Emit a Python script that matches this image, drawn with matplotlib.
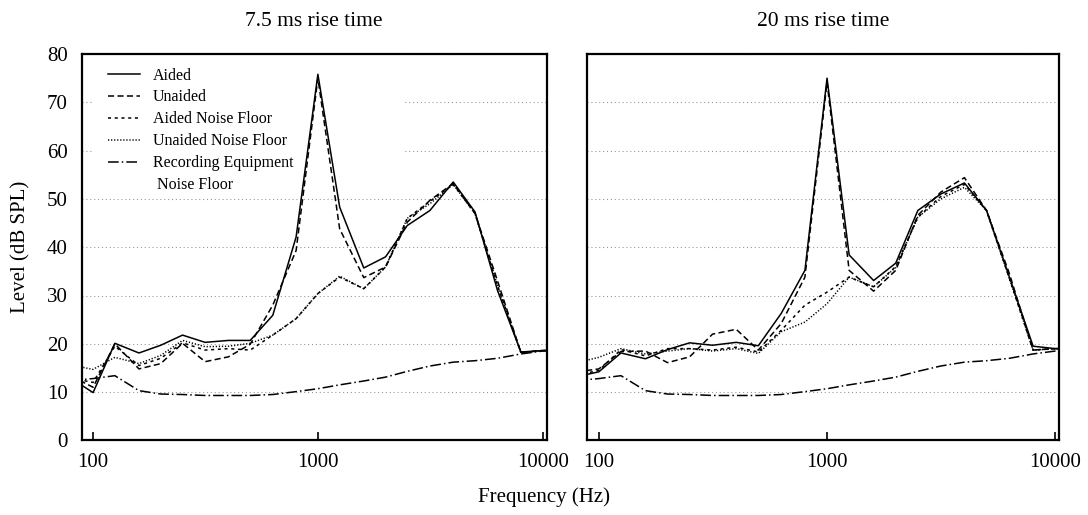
import matplotlib
matplotlib.use('Agg')
import matplotlib.pyplot as plt
from matplotlib.lines import Line2D
from matplotlib.patches import Rectangle

# third-octave band centres (Hz)
freqs = [80, 100, 125, 160, 200, 250, 315, 400, 500, 630, 800, 1000,
         1250, 1600, 2000, 2500, 3150, 4000, 5000, 6300, 8000, 10000, 12500]

# 7.5 ms rise time
aided_75 = [12.8, 9.9, 20.1, 18.1, 19.7, 21.8, 20.3, 20.7, 20.7, 25.9, 42.1, 75.8,
            48.3, 35.7, 38.0, 44.5, 47.6, 53.5, 47.3, 31.0, 18.3, 18.6, 18.7]
unaided_75 = [13.3, 11.0, 20.0, 14.8, 15.9, 20.1, 16.3, 17.3, 19.9, 28.0, 39.3, 75.0,
              43.8, 33.7, 35.9, 45.2, 49.7, 53.2, 47.0, 33.0, 18.2, 18.6, 18.7]
aided_nf_75 = [12.9, 12.0, 19.5, 15.5, 17.0, 20.2, 18.7, 19.0, 18.7, 21.8, 25.2, 30.4,
               33.8, 31.4, 35.9, 46.0, 49.5, 53.0, 47.0, 32.0, 18.2, 18.6, 18.7]
unaided_nf_75 = [15.6, 14.7, 17.2, 15.9, 17.6, 20.7, 19.4, 19.5, 20.1, 21.8, 25.2, 30.4,
                 34.0, 31.4, 35.9, 46.0, 49.0, 53.0, 47.0, 32.0, 18.2, 18.6, 18.7]

# 20 ms rise time
aided_20 = [13.2, 14.2, 18.1, 16.9, 18.8, 20.2, 19.7, 20.3, 19.6, 26.3, 35.2, 75.0,
            38.4, 33.1, 36.7, 47.6, 51.0, 53.3, 47.6, 33.8, 19.5, 19.0, 19.0]
unaided_20 = [14.2, 14.8, 18.4, 18.5, 16.1, 17.3, 22.0, 23.0, 18.7, 24.2, 33.8, 74.2,
              35.2, 30.9, 35.2, 46.6, 51.4, 54.4, 47.6, 34.5, 18.7, 19.0, 19.0]
aided_nf_20 = [13.5, 14.5, 18.8, 17.5, 19.0, 19.0, 18.7, 19.3, 18.3, 22.8, 28.0, 30.7,
               33.8, 31.8, 36.0, 46.2, 50.5, 53.0, 47.6, 33.5, 18.7, 19.0, 19.0]
unaided_nf_20 = [16.1, 17.2, 19.0, 17.9, 18.5, 19.0, 18.5, 19.0, 18.0, 22.5, 24.5, 28.3,
                 33.8, 31.8, 35.8, 46.2, 50.0, 52.4, 47.6, 33.5, 18.7, 19.0, 19.0]

# recording equipment noise floor (same for both)
rec_nf = [12.4, 12.8, 13.4, 10.3, 9.6, 9.5, 9.3, 9.3, 9.3, 9.5, 10.1, 10.7,
          11.5, 12.3, 13.1, 14.3, 15.4, 16.2, 16.5, 17.0, 17.9, 18.5, 18.7]

titles = ['7.5 ms rise time', '20 ms rise time']
labels = ['Aided', 'Unaided', 'Aided Noise Floor', 'Unaided Noise Floor',
          'Recording Equipment']

styles = [
    dict(linestyle='-'),
    dict(linestyle=(0, (4.0, 2.2))),
    dict(linestyle=(0, (2.0, 2.4))),
    dict(linestyle=(0, (0.8, 1.2))),
    dict(linestyle=(0, (7.0, 2.0, 1.0, 2.0))),
]

plt.rcParams['font.family'] = ['Liberation Serif', 'DejaVu Serif']
plt.rcParams['font.size'] = 15

W, H = 1088, 515
fig = plt.figure(figsize=(W / 100, H / 100), dpi=100)

y_bot = 1 - 440.4 / H
y_h = (440.4 - 54) / H
ax1 = fig.add_axes([81.7 / W, y_bot, 465 / W, y_h])
ax2 = fig.add_axes([587.3 / W, y_bot, 472 / W, y_h])

panels = [
    (ax1, [aided_75, unaided_75, aided_nf_75, unaided_nf_75, rec_nf]),
    (ax2, [aided_20, unaided_20, aided_nf_20, unaided_nf_20, rec_nf]),
]

for i, (ax, series) in enumerate(panels):
    for vals, lab, st in zip(series, labels, styles):
        ax.plot(freqs, vals, color='black', linewidth=1.1, label=lab, **st)
    ax.set_xscale('log')
    ax.set_xlim(89, 10420)
    ax.set_ylim(0, 80)
    ax.set_xticks([100, 1000, 10000])
    ax.set_xticklabels(['100', '1000', '10000'])
    ax.minorticks_off()
    ax.set_yticks(range(0, 81, 10))
    ax.set_axisbelow(True)
    ax.yaxis.grid(True, color='#999999', linestyle=(0, (1, 2.5)), linewidth=0.8)
    for sp in ax.spines.values():
        sp.set_linewidth(1.6)
    ax.tick_params(axis='x', direction='in', length=6, width=1.2, pad=9, labelsize=15)
    ax.tick_params(axis='y', length=0, pad=10, labelsize=15)
    ax.set_title(titles[i], fontsize=15.5, pad=20)
    if i == 1:
        ax.set_yticklabels([])

ax1.set_ylabel('Level (dB SPL)', fontsize=15, labelpad=12)
fig.text(0.5, 0.035, 'Frequency (Hz)', ha='center', va='center', fontsize=15)

# legend in the left panel, white box over the grid but under the curves
ax1.add_patch(Rectangle((0.024, 0.64), 0.668, 0.36, transform=ax1.transAxes,
                        facecolor='white', edgecolor='none', zorder=1))
handles, labs = ax1.get_legend_handles_labels()
handles.append(Line2D([], [], linestyle='none'))
labs.append(' Noise Floor')
leg = ax1.legend(handles, labs, loc='upper left', bbox_to_anchor=(0.057, 0.965),
                 frameon=False, fontsize=11.5, handlelength=2.0, handletextpad=0.8,
                 labelspacing=0.37, borderpad=0, borderaxespad=0)
leg.set_zorder(1.5)

fig.savefig('out.png', dpi=100)
